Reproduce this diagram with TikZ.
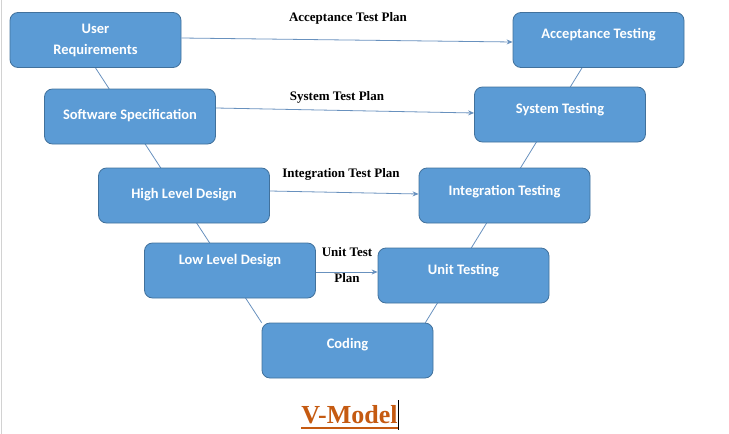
\documentclass[tikz,border=0pt]{standalone}
\usepackage{fontspec}
\setmainfont{Liberation Serif}
\newfontfamily\boxfont{Carlito}
\usepackage{xcolor}
\usetikzlibrary{arrows.meta,calc,backgrounds}
\definecolor{boxblue}{RGB}{91,155,213}
\definecolor{boxedge}{RGB}{65,113,156}
\definecolor{linkblue}{RGB}{104,145,190}
\definecolor{titleorange}{RGB}{197,90,17}
\tikzset{
  stage box/.style  = {draw=boxedge, fill=boxblue, rounded corners=8pt,
                        minimum width=171pt, minimum height=55pt,
                        font=\boxfont\bfseries\fontsize{14.5}{21}\selectfont,
                        text=white, align=center, line width=0.8pt},
  lift/.style       = {text height=11pt, text depth=#1},
  plan label/.style = {font=\bfseries\fontsize{13}{26}\selectfont,
                        align=center},
  plan arr/.style   = {-{Stealth[length=6pt,width=5pt]}, linkblue,
                        line width=0.8pt},
  v line/.style     = {linkblue, line width=0.8pt},
}

\begin{document}
\begin{tikzpicture}[x=1pt, y=-1pt]
  \useasboundingbox (0,0) rectangle (729,434);
  \draw[gray!35, line width=0.6pt] (1.5,0) -- (1.5,434);

  %% --- left arm of the V ------------------------------------------
  \node[stage box] (ureq) at (95.5,40) {User\\Requirements};
  \node[stage box, lift=4.6pt] (spec) at (130,116.5) {Software Specification};
  \node[stage box, lift=4.6pt] (hld) at (184,195.5) {High Level Design};
  \node[stage box, lift=22.6pt] (lld) at (230,270.5) {Low Level Design};

  %% --- bottom -----------------------------------------------------
  \node[stage box, lift=14.6pt] (coding) at (347.5,350.5) {Coding};

  %% --- right arm of the V -----------------------------------------
  \node[stage box, lift=13.6pt] (accept) at (598.5,40) {Acceptance Testing};
  \node[stage box, lift=12.6pt] (systest) at (560,114.5) {System Testing};
  \node[stage box, lift=11.6pt] (inttest) at (504.5,195.5) {Integration Testing};
  \node[stage box, lift=12.6pt] (unittest) at (463.5,275.5) {Unit Testing};

  %% the two arms, behind the boxes
  \begin{scope}[on background layer]
    \draw[v line] (ureq.south) -- (coding.north west);
    \draw[v line] ($(accept.south)+(-16.5,0)$) -- ($(coding.north east)+(-8,0)$);
  \end{scope}

  %% test plans
  \draw[plan arr] ($(ureq.east)+(0,-2)$) -- ($(accept.west)+(0,2)$);
  \draw[plan arr] ($(spec.east)+(0,-8.5)$) -- ($(systest.west)+(0,-1.5)$);
  \draw[plan arr] ($(hld.east)+(0,-4.5)$) -- ($(inttest.west)+(0,-1.5)$);
  \draw[plan arr] ($(lld.east)+(0,1.5)$) -- ($(unittest.west)+(0,-3.5)$);

  \node[plan label] (accplan) at (348,18) {Acceptance Test Plan};
  \node[plan label] (sysplan) at (337,97) {System Test Plan};
  \node[plan label] (intplan) at (341,174) {Integration Test Plan};
  \node[plan label] (unitplan) at (347,265) {Unit Test\\Plan};

  %% title
  \node[anchor=base, inner sep=0pt, text=titleorange,
        font=\bfseries\fontsize{26}{30}\selectfont] (title) at (349.5,423) {V-Model};
  \draw[titleorange, line width=1.5pt]
    ($(title.base west)+(0,5)$) -- ($(title.base east)+(0,5)$);
  \draw[black, line width=0.8pt]
    ($(title.base east)+(1,-23)$) -- ($(title.base east)+(1,7)$);
\end{tikzpicture}
\end{document}
